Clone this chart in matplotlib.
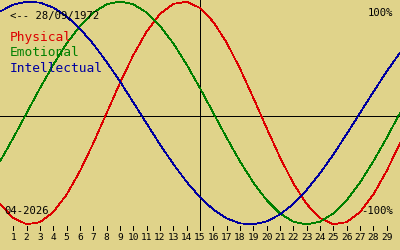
import matplotlib
matplotlib.use("Agg")
import matplotlib.pyplot as plt

# ── Data (biorhythm values, one per day, day 0..30) ─────────────────────────
days = list(range(0, 31))
physical = [-0.817, -0.942, -0.998, -0.979, -0.888, -0.731, -0.520, -0.270,
            0.000, 0.270, 0.520, 0.731, 0.888, 0.979, 0.998, 0.942,
            0.817, 0.631, 0.398, 0.136, -0.136, -0.398, -0.631, -0.817,
            -0.942, -0.998, -0.979, -0.888, -0.731, -0.520, -0.270]
emotional = [-0.434, -0.223, 0.000, 0.223, 0.434, 0.624, 0.782, 0.901,
             0.975, 1.000, 0.975, 0.901, 0.782, 0.624, 0.434, 0.223,
             0.000, -0.223, -0.434, -0.624, -0.782, -0.901, -0.975, -1.000,
             -0.975, -0.901, -0.782, -0.624, -0.434, -0.223, 0.000]
intellectual = [0.910, 0.972, 0.999, 0.990, 0.945, 0.866, 0.756, 0.618,
                0.458, 0.282, 0.095, -0.095, -0.282, -0.458, -0.618, -0.756,
                -0.866, -0.945, -0.990, -0.999, -0.972, -0.910, -0.815, -0.690,
                -0.541, -0.372, -0.189, 0.000, 0.189, 0.372, 0.541]

tick_days = list(range(1, 30))
today = 15
birth_label = "<-- 28/09/1972"
month_label = "04-2026"
series_names = ["Physical", "Emotional", "Intellectual"]

BG = "#e0d38a"
COLORS = ["#dd0000", "#008000", "#0000a0"]
MONO = "DejaVu Sans Mono"
LW = 0.72   # one pixel at 100 dpi
CURVE_LW = 0.55

fig = plt.figure(figsize=(4, 2.5), dpi=100, facecolor=BG)
ax = fig.add_axes([0, 0, 1, 1])
ax.set_facecolor(BG)
ax.set_xlim(0, 30)
ax.set_ylim(-1.2287, 1.0135)
ax.axis("off")

# reference lines
ax.axhline(-0.025, color="black", linewidth=LW, antialiased=False)
ax.vlines(today, -1.031, 1.1, color="black", linewidth=LW, antialiased=False)

for vals, col in zip([physical, emotional, intellectual], COLORS):
    ax.plot(days, vals, color=col, linewidth=CURVE_LW, antialiased=False)

# day ticks + labels
ax.vlines(tick_days, -1.049, -1.013, color="black", linewidth=LW, antialiased=False)
for d in tick_days:
    ax.text(d, -1.121, str(d), ha="center", va="center",
            fontsize=6.8, family=MONO, color="black")

# texts
ax.text(0.025, 0.935, birth_label, transform=ax.transAxes, ha="left", va="center",
        fontsize=7.6, family=MONO, color="black")
for i, (name, col) in enumerate(zip(series_names, COLORS)):
    ax.text(0.025, 0.848 - i * 0.06, name, transform=ax.transAxes, ha="left",
            va="center", fontsize=9.3, family=MONO, color=col)
ax.text(0.983, 0.948, "100%", transform=ax.transAxes, ha="right", va="center",
        fontsize=7.6, family=MONO, color="black")
ax.text(0.983, 0.156, "-100%", transform=ax.transAxes, ha="right", va="center",
        fontsize=7.6, family=MONO, color="black")
ax.text(0.012, 0.156, month_label, transform=ax.transAxes, ha="left", va="center",
        fontsize=7.6, family=MONO, color="black")

fig.savefig("out.png", dpi=100, facecolor=BG)
